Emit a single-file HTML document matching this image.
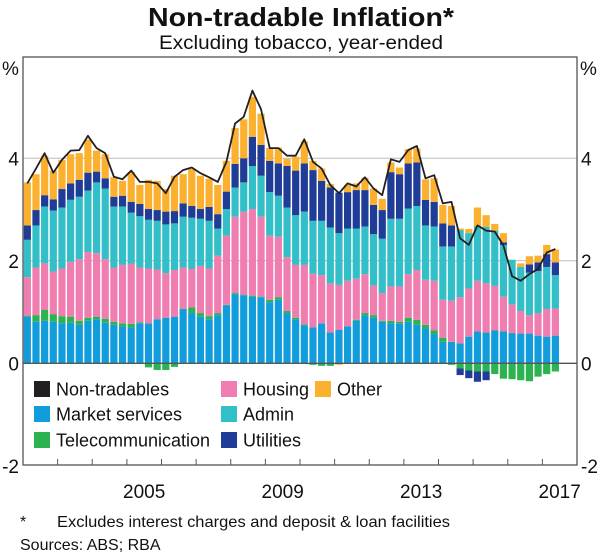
<!DOCTYPE html>
<html><head><meta charset="utf-8"><style>
body{margin:0;background:#fff;}
svg{display:block;font-family:"Liberation Sans",Arial,sans-serif;}
</style></head><body>
<svg id="chart" width="600" height="553" viewBox="0 0 600 553">
<text x="301" y="26" text-anchor="middle" font-size="26" font-weight="bold" fill="#111" textLength="306" lengthAdjust="spacingAndGlyphs">Non-tradable Inflation*</text>
<text x="301" y="49" text-anchor="middle" font-size="19" fill="#111" textLength="284" lengthAdjust="spacingAndGlyphs">Excluding tobacco, year-ended</text>
<text x="2" y="75" font-size="19" fill="#111">%</text>
<text x="580" y="75" font-size="19" fill="#111">%</text>
<g id="grid"></g><g id="bars"></g><g id="line"></g><g id="axes"></g><g id="legend"></g>
<text x="20" y="527" font-size="16" fill="#111">*</text>
<text x="57" y="527" font-size="16" fill="#111" textLength="393" lengthAdjust="spacingAndGlyphs">Excludes interest charges and deposit &amp; loan facilities</text>
<text x="20" y="550" font-size="16" fill="#111">Sources: ABS; RBA</text>
</svg>
<script>
const startYear = 2002;
const yTicks = [4, 2, 0, -2];
const yearLabels = [2005, 2009, 2013, 2017];
const seriesNames = ["Market services","Telecommunication","Housing","Admin","Utilities","Other"];
const marketServices = [.91,.81,.83,.81,.78,.79,.75,.83,.86,.79,.75,.72,.70,.78,.78,.86,.89,.91,1.06,.98,.91,.86,.94,1.13,1.35,1.33,1.30,1.29,1.19,1.24,.98,.86,.74,.70,.78,.60,.65,.72,.83,.93,.89,.81,.78,.77,.81,.75,.68,.57,.42,.42,.39,.52,.62,.60,.64,.62,.59,.58,.58,.54,.52,.54];
const telecommunication = [.02,.13,.21,.15,.14,.12,.08,.06,.05,.08,.06,.06,.07,.02,-.08,-.13,-.13,-.07,0,.11,.07,.06,.04,.01,.02,.01,.02,.01,.05,.05,.04,.03,.02,-.03,-.05,-.05,0,0,.02,.05,.05,.02,.05,.04,.08,.10,.07,.07,.08,-.03,-.10,-.14,-.16,-.16,-.21,-.30,-.31,-.33,-.35,-.26,-.21,-.16];
const housing = [.75,.93,.91,.83,.93,1.07,1.20,1.28,1.24,1.16,1.06,1.14,1.17,1.07,1.07,.97,.87,.91,.81,.75,.92,.93,1.12,1.35,1.49,1.62,1.69,1.56,1.25,1.18,1.05,1.03,1.16,1.05,.94,.96,.88,.89,.80,.76,.58,.54,.67,.69,.85,.97,.88,.97,.74,.80,.90,.94,.99,.96,.87,.68,.56,.44,.36,.44,.54,.53];
const admin = [.73,.82,1.11,1.19,1.19,1.21,1.22,1.20,1.38,1.38,1.19,1.14,1.00,1.00,.95,.95,.95,.91,.99,1.00,.92,.93,.53,.52,.57,.57,.84,.80,.85,.80,.97,.97,1.04,1.03,1.06,1.09,1.01,1.02,.98,.93,1.00,1.06,1.32,1.32,1.28,1.25,1.06,1.06,1.04,1.06,1.31,1.08,1.07,1.10,1.08,1.01,.87,.86,.83,.82,.82,.65];
const utilities = [.28,.30,.22,.22,.36,.32,.33,.35,.21,.20,.19,.21,.21,.24,.21,.21,.25,.24,.26,.23,.19,.27,.28,.34,.46,.47,.57,.60,.61,.63,.81,.87,.94,.99,.78,.78,.79,.71,.75,.71,.57,.56,.91,.87,.88,.85,.50,.48,.45,.41,-.13,-.15,-.20,-.17,0,.05,0,0,.16,.17,.25,.25];
const other = [.84,.70,.77,.56,.57,.57,.52,.65,.41,.47,.38,.29,.58,.37,.57,.57,.44,.69,.57,.72,.65,.55,.57,.60,.70,.76,.78,.61,.25,.31,.14,.27,.43,.18,.24,.07,-.03,.14,.13,.24,.32,.22,.19,.13,.28,.27,.40,.46,.36,.38,.03,.08,.36,.23,.13,.18,0,.07,.16,.13,.18,.25];
const nonTradables = [3.51,3.80,4.10,3.72,3.97,4.15,4.16,4.44,4.20,4.10,3.64,3.59,3.76,3.54,3.54,3.51,3.32,3.64,3.77,3.82,3.71,3.63,3.54,3.93,4.68,4.81,5.32,4.96,4.20,4.20,4.05,4.05,4.37,3.93,3.80,3.48,3.32,3.51,3.45,3.63,3.41,3.28,3.98,3.93,4.16,4.24,3.61,3.67,3.12,3.15,2.44,2.31,2.69,2.59,2.57,2.30,1.70,1.61,1.74,1.84,2.16,2.23];

const NS="http://www.w3.org/2000/svg";
const L=23,R=577,T=57,B=465;
const xScale=t=>L+(t-2002)/(2018-2002)*(R-L);
const yScale=v=>363.3-v*51.25;
const colors=["#119cdb","#2cb24f","#f07db0","#33bfc8","#1f3d96","#fbb12f"];
const series=[marketServices,telecommunication,housing,admin,utilities,other];
function mk(tag,attrs,parent){const e=document.createElementNS(NS,tag);for(const k in attrs)e.setAttribute(k,attrs[k]);parent.appendChild(e);return e;}
const grid=document.getElementById('grid'),axes=document.getElementById('axes'),barsG=document.getElementById('bars'),lineG=document.getElementById('line'),leg=document.getElementById('legend');
mk('rect',{x:L,y:T,width:R-L,height:B-T,fill:'#fff',stroke:'none'},grid);
yTicks.forEach(v=>{
  const y=yScale(v);
  if(v!==-2){const g=mk('line',{x1:L,x2:R,y1:y,y2:y,stroke:v===0?'#555':'#bbb','stroke-width':v===0?1.3:1},v===0?axes:grid);
  
  }
  const a=mk('text',{x:19,y:y+7,'text-anchor':'end','font-size':19,fill:'#111'},axes);a.textContent=v;
  
  
  const b=mk('text',{x:581,y:y+7,'font-size':19,fill:'#111'},axes);b.textContent=v;
  
  
});
const n=marketServices.length;
for(let i=0;i<n;i++){
  const cx=xScale(startYear+(i+0.5)*0.25);
  let pos=0,neg=0;
  series.forEach((s,k)=>{
    const v=s[i]; if(!v) return;
    let y0,y1;
    if(v>0){y0=pos;y1=pos+v;pos=y1;}else{y0=neg;y1=neg+v;neg=y1;}
    const top=yScale(Math.max(y0,y1)),bot=yScale(Math.min(y0,y1));
    const r=mk('rect',{x:cx-3.6,y:top,width:7.2,height:Math.max(bot-top,0.5),fill:colors[k]},barsG);
    
    
  });
}
const pts=nonTradables.map((v,i)=>xScale(startYear+(i+0.5)*0.25).toFixed(1)+','+yScale(v).toFixed(1)).join(' ');
const pl=mk('polyline',{points:pts,fill:'none',stroke:'#231f20','stroke-width':1.8,'stroke-linejoin':'round'},lineG);


const frame=mk('rect',{x:L,y:T,width:R-L,height:B-T,fill:'none',stroke:'#555','stroke-width':1.3},axes);


for(let yr=2003;yr<=2017;yr++){
  const x=xScale(yr);
  const t=mk('line',{x1:x,x2:x,y1:B,y2:B-6,stroke:'#555','stroke-width':1},axes);
  
  
}
yearLabels.forEach(yr=>{
  const t=mk('text',{x:xScale(yr+0.5),y:498,'text-anchor':'middle','font-size':19,fill:'#111'},axes);t.textContent=yr;
  
  
});
const legendItems=[["Non-tradables","#231f20",34,389],["Housing",colors[2],221,389],["Other",colors[5],315,389],["Market services",colors[0],34,414],["Admin",colors[3],221,414],["Telecommunication",colors[1],34,440],["Utilities",colors[4],221,440]];
legendItems.forEach(([lab,c,x,y])=>{
  const g=mk('g',{},leg);
  
  
  mk('rect',{x:x,y:y-8,width:16,height:16,fill:c},g);
  const t=mk('text',{x:x+22,y:y+6.5,'font-size':18,fill:'#111'},g);t.textContent=lab;
});
</script>
</body></html>
